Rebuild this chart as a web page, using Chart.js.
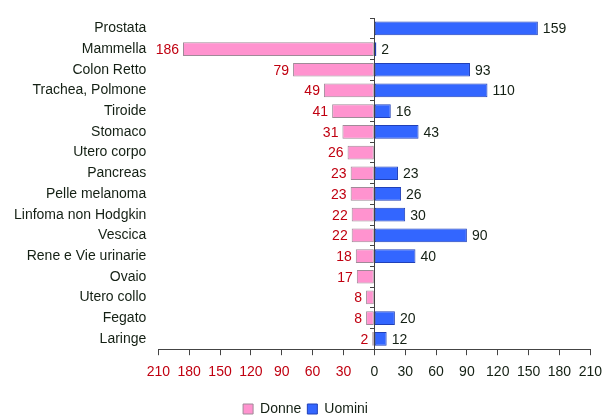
<!DOCTYPE html>
<html lang="it">
<head>
<meta charset="UTF-8">
<title>Donne / Uomini</title>
<style>
  html, body { margin: 0; padding: 0; background: #fff; overflow: hidden; }
  #wrap { width: 611px; height: 426px; }
</style>
</head>
<body>
<div id="wrap"><canvas id="chart"></canvas></div>
<script src="https://cdn.jsdelivr.net/npm/chart.js@4.4.7/dist/chart.umd.min.js"></script>
<script>
// dati
const categorie = ['Prostata', 'Mammella', 'Colon Retto', 'Trachea, Polmone', 'Tiroide', 'Stomaco',
  'Utero corpo', 'Pancreas', 'Pelle melanoma', 'Linfoma non Hodgkin', 'Vescica',
  'Rene e Vie urinarie', 'Ovaio', 'Utero collo', 'Fegato', 'Laringe'];
const donne = [null, 186, 79, 49, 41, 31, 26, 23, 23, 22, 22, 18, 17, 8, 8, 2];
const uomini = [159, 2, 93, 110, 16, 43, null, 23, 26, 30, 90, 40, null, null, 20, 12];
const tickMin = -210;
const tickMax = 210;
const tickStep = 30;

const ROSSO = '#c00010';
const SCURO = '#142014';
const FONT = "'Liberation Sans', Arial, sans-serif";

// etichette dei valori accanto alle barre
const etichette = {
  id: 'etichette',
  afterDatasetsDraw(chart) {
    const ctx = chart.ctx;
    ctx.save();
    ctx.font = '14px ' + FONT;
    ctx.textBaseline = 'middle';
    chart.data.datasets.forEach((ds, i) => {
      const meta = chart.getDatasetMeta(i);
      meta.data.forEach((bar, j) => {
        const v = ds.data[j];
        if (v === null) return;
        if (v < 0) {
          ctx.fillStyle = ROSSO;
          ctx.textAlign = 'right';
          ctx.fillText(String(Math.abs(v)), bar.x - 4, bar.y + 1);
        } else {
          ctx.fillStyle = SCURO;
          ctx.textAlign = 'left';
          ctx.fillText(String(v), bar.x + 5, bar.y + 1);
        }
      });
    });
    ctx.restore();
  }
};

new Chart(document.getElementById('chart'), {
  type: 'bar',
  data: {
    labels: categorie,
    datasets: [{
      label: 'Donne',
      data: donne.map(v => v === null ? null : -v),
      backgroundColor: '#ff93cf',
      borderColor: '#a08a98',
      borderWidth: 1,
      borderSkipped: false,
      barPercentage: 0.66,
      categoryPercentage: 1
    }, {
      label: 'Uomini',
      data: uomini,
      backgroundColor: '#3366ff',
      borderColor: '#2040b8',
      borderWidth: 1,
      borderSkipped: false,
      barPercentage: 0.66,
      categoryPercentage: 1
    }]
  },
  options: {
    indexAxis: 'y',
    responsive: true,
    maintainAspectRatio: false,
    animation: false,
    layout: { padding: { top: 18, right: 0, left: 0, bottom: 0 } },
    scales: {
      x: {
        stacked: true,
        min: tickMin,
        max: tickMax,
        ticks: {
          stepSize: tickStep,
          padding: 9,
          font: { family: FONT, size: 14 },
          color: c => c.tick && c.tick.value < 0 ? ROSSO : SCURO,
          callback: v => Math.abs(v),
          maxRotation: 0
        },
        grid: { drawOnChartArea: false, tickLength: 6, color: '#444' },
        border: { color: '#444' },
        afterFit: s => { s.height += 6; }
      },
      y: {
        stacked: true,
        ticks: { font: { family: FONT, size: 14 }, color: SCURO, padding: 4 },
        grid: { display: false },
        border: { display: false },
        afterFit: s => { s.width += 10; }
      },
      asse0: {
        type: 'category',
        axis: 'y',
        position: { x: 0 },
        offset: true,
        ticks: { display: false },
        grid: { drawOnChartArea: false, tickLength: 4, offset: true, color: '#444' },
        border: { color: '#444' }
      }
    },
    plugins: {
      legend: {
        position: 'bottom',
        labels: {
          font: { family: FONT, size: 14 },
          color: SCURO,
          boxWidth: 10,
          boxHeight: 10,
          padding: 6
        }
      },
      tooltip: { enabled: false }
    }
  },
  plugins: [etichette]
});
</script>
</body>
</html>
